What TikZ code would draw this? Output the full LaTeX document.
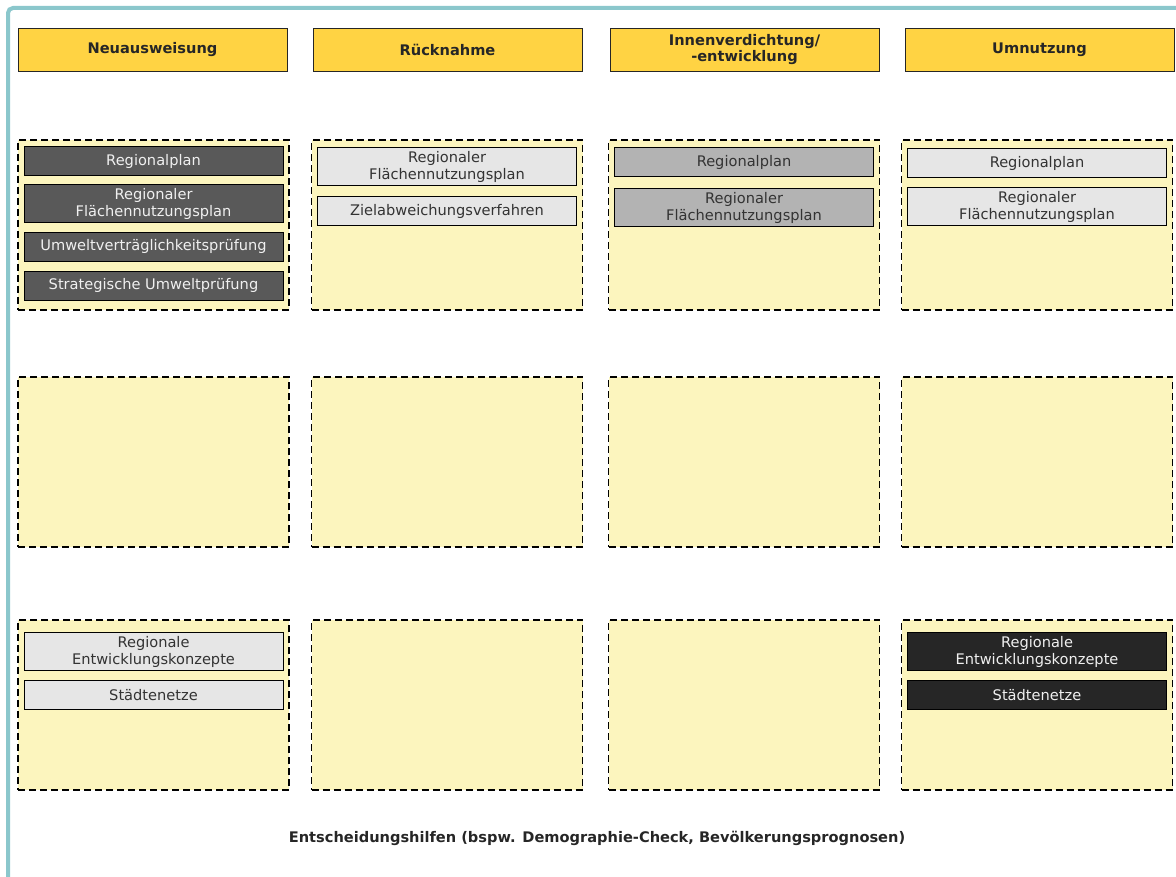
\documentclass[tikz,border=0pt]{standalone}
\usepackage{fontspec}
\setmainfont{DejaVu Sans}
\usepackage{xcolor}
\usepackage{tikz}
\usetikzlibrary{positioning}

\definecolor{rahmen}{HTML}{8BC7CC}
\definecolor{kopfgelb}{HTML}{FFD343}
\definecolor{feldgelb}{HTML}{FCF5BE}
\definecolor{dunkelgrau}{HTML}{595959}
\definecolor{hellgrau}{HTML}{E6E6E6}
\definecolor{mittelgrau}{HTML}{B3B3B3}
\definecolor{fastschwarz}{HTML}{262626}
\definecolor{textgrau}{HTML}{333333}

\tikzset{
  kopf/.style={draw=fastschwarz, fill=kopfgelb, minimum width=269pt, minimum height=43pt,
    inner sep=0pt, align=center, text=fastschwarz, font=\fontsize{14.6}{16.5}\selectfont\bfseries},
  feld/.style={draw=black, fill=feldgelb, line width=1.4pt, dash pattern=on 7pt off 4pt,
    minimum width=271pt, minimum height=170pt, inner sep=0pt},
  plan/.style={draw=black, line width=0.8pt, minimum width=259pt, minimum height=29pt,
    inner sep=0pt, align=center, font=\fontsize{14.6}{17}\selectfont},
  zwei/.style={minimum height=38pt},
  dunkel/.style={fill=dunkelgrau, text=white!94!black},
  hell/.style={fill=hellgrau, text=textgrau},
  mittel/.style={fill=mittelgrau, text=textgrau},
  schwarz/.style={fill=fastschwarz, text=white!94!black}
}

\begin{document}
\begin{tikzpicture}[x=1pt, y=-1pt, node distance=9pt]
    \useasboundingbox (0,0) rectangle (1176,877);
    \draw[rahmen, line width=4pt, rounded corners=5pt] (8,879) -- (8,8) -- (1178,8);

    % Kopfzeile
    \node[kopf] (neu) at (152.5,49.5) {Neuausweisung};
    \node[kopf] (rueck) at (447.5,49.5) {Rücknahme};
    \node[kopf] (innen) at (744.5,49.5) {Innenverdichtung/\\-entwicklung};
    \node[kopf] (um) at (1039.5,49.5) {Umnutzung};

    % Felder
    \foreach \x/\s in {153.5/a, 447/b, 744/c, 1037/d}
      \foreach \y/\z in {225/1, 462/2, 705/3}
        \node[feld] (f\s\z) at (\x,\y) {};

    % Neuausweisung
    \node[plan, dunkel, anchor=north] (rpa) at ([yshift=-7pt]fa1.north) {Regionalplan};
    \node[plan, zwei, dunkel, below=8pt of rpa] (rfa) {Regionaler\\Flächennutzungsplan};
    \node[plan, dunkel, below=of rfa] (uvp) {Umweltverträglichkeitsprüfung};
    \node[plan, dunkel, below=of uvp] (sup) {Strategische Umweltprüfung};
    \node[plan, zwei, hell, anchor=north] (reka) at ([yshift=-13pt]fa3.north) {Regionale\\Entwicklungskonzepte};
    \node[plan, hell, below=of reka] (stna) {Städtenetze};

    % Ruecknahme
    \node[plan, zwei, hell, anchor=north] (rfb) at ([yshift=-8pt]fb1.north) {Regionaler\\Flächennutzungsplan};
    \node[plan, hell, below=10pt of rfb] (zav) {Zielabweichungsverfahren};

    % Innenverdichtung
    \node[plan, mittel, anchor=north] (rpc) at ([yshift=-8pt]fc1.north) {Regionalplan};
    \node[plan, zwei, mittel, below=11pt of rpc] (rfc) {Regionaler\\Flächennutzungsplan};

    % Umnutzung
    \node[plan, hell, anchor=north] (rpd) at ([yshift=-9pt]fd1.north) {Regionalplan};
    \node[plan, zwei, hell, below=of rpd] (rfd) {Regionaler\\Flächennutzungsplan};
    \node[plan, zwei, schwarz, anchor=north] (rekd) at ([yshift=-13pt]fd3.north) {Regionale\\Entwicklungskonzepte};
    \node[plan, schwarz, below=of rekd] (stnd) {Städtenetze};

    \node[font=\fontsize{14.6}{17}\selectfont\bfseries, text=fastschwarz] (hilfe) at (597,838)
      {Entscheidungshilfen (bspw. Demographie-Check, Bevölkerungsprognosen)};
\end{tikzpicture}
\end{document}
